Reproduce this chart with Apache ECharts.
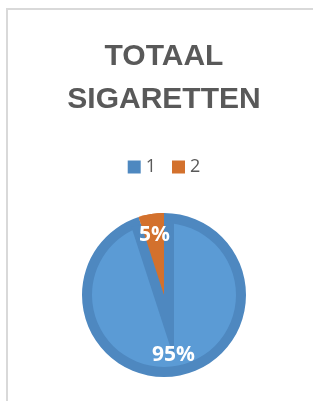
<!DOCTYPE html>
<html>
<head>
<meta charset="utf-8">
<script src="https://cdn.jsdelivr.net/npm/echarts@6/dist/echarts.min.js"></script>
<style>
	html, body { margin: 0; padding: 0; width: 313px; height: 401px; overflow: hidden; background: #fff; }
	#frame { position: absolute; left: 6px; top: 8px; width: 400px; height: 500px; border-top: 2px solid #d9d9d9; border-left: 2px solid #d9d9d9; }
	#main { position: absolute; left: 7px; top: 0; width: 314px; height: 401px; }
</style>
</head>
<body>
<div id="frame"></div>
<div id="main"></div>
<script>
const titleText = "TOTAAL\nSIGARETTEN";
const categories = ["1", "2"];
const values = [95, 5];

(() => {
	const chart = echarts.init(document.getElementById("main"), null, { renderer: "canvas" });

	const light = "#5b9bd5";
	const dark = "#4e88c0";
	const orange = "#d3712d";
	const clear = "rgba(0,0,0,0)";
	const font = "'Open Sans', 'Noto Sans', sans-serif";

	const cx = 157, cy = 295;
	const outerR = 82, inset = 10;

	// the dark strips along the slice edges meet below the centre (excel bevel look)
	const total = values.reduce((a, b) => a + b, 0);
	const half = (values[1] / total) * Math.PI; // half angle of slice 2, rad
	const apex = inset / Math.sin(half);
	const halfDeg = half * 180 / Math.PI;
	const mid = (90 + halfDeg) * Math.PI / 180; // bisector of slice 2
	const ax = cx - apex * Math.cos(mid);
	const ay = cy + apex * Math.sin(mid);

	const plain = { label: { show: false }, labelLine: { show: false }, silent: true, emphasis: { disabled: true } };

	const option = {
		animation: false,
		title: {
			text: titleText,
			left: "center",
			top: 30,
			textStyle: { fontFamily: "'Liberation Sans', Arial, sans-serif", fontSize: 30, fontWeight: "bold", color: "#595959", lineHeight: 43 }
		},
		legend: {
			top: 153,
			left: "center",
			icon: "rect",
			itemWidth: 13,
			itemHeight: 13,
			itemGap: 16,
			textStyle: { fontFamily: font, fontSize: 18, color: "#595959" },
			data: [
				{ name: categories[0], itemStyle: { color: dark } },
				{ name: categories[1], itemStyle: { color: orange } }
			]
		},
		series: [
			Object.assign({
				type: "pie", center: [cx, cy], radius: outerR, startAngle: 90,
				itemStyle: { borderWidth: 0 },
				data: categories.map((c, i) => ({ name: c, value: values[i], itemStyle: { color: i == 0 ? dark : orange } }))
			}, plain),
			Object.assign({
				type: "pie", center: [cx, cy], radius: outerR - inset, startAngle: 90,
				itemStyle: { borderWidth: 0 }, legendHoverLink: false,
				data: categories.map((c, i) => ({ name: "l" + c, value: values[i], itemStyle: { color: light } }))
			}, plain),
			Object.assign({
				type: "pie", center: [ax, ay], radius: outerR - inset + apex + 2, startAngle: 90 + 2 * halfDeg,
				itemStyle: { borderWidth: 0 },
				data: [
					{ name: "w1", value: values[1], itemStyle: { color: dark } },
					{ name: "w0", value: values[0], itemStyle: { color: clear } }
				]
			}, plain),
			Object.assign({
				type: "pie", center: [cx, cy], radius: outerR, startAngle: 90,
				itemStyle: { borderWidth: 0 },
				data: categories.map((c, i) => ({ name: "o" + c, value: values[i], itemStyle: { color: i == 1 ? orange : clear } }))
			}, plain),
			{
				type: "pie", center: [cx, cy], radius: [34, outerR], startAngle: 90,
				silent: true, z: 5,
				itemStyle: { color: clear, borderWidth: 0 },
				label: {
					show: true, position: "inside", formatter: "{d}%",
					fontFamily: font, fontSize: 21, fontWeight: "bold", color: "#fff"
				},
				labelLine: { show: false },
				data: categories.map((c, i) => ({ name: "t" + c, value: values[i] }))
			}
		]
	};

	chart.setOption(option);
})();
</script>
</body>
</html>
